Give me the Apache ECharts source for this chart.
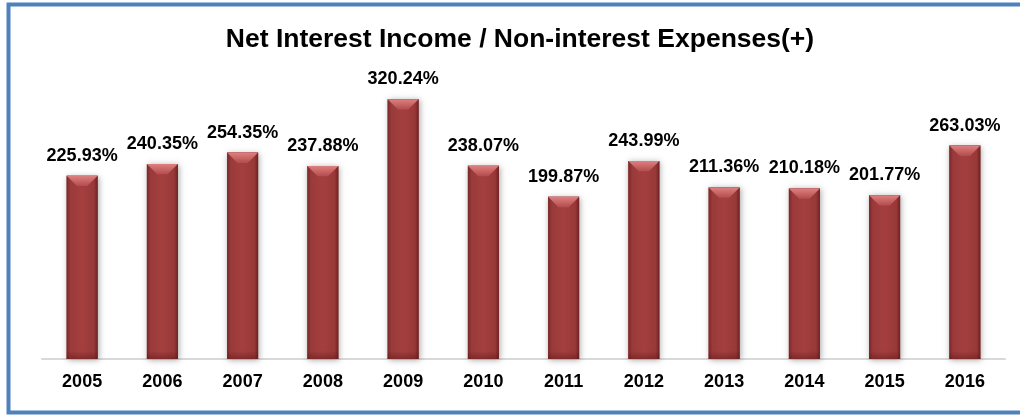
<!DOCTYPE html>
<html>
<head>
<meta charset="utf-8">
<script src="https://cdn.jsdelivr.net/npm/echarts@6/dist/echarts.min.js"></script>
<style>
  html, body { margin: 0; padding: 0; background: #ffffff; }
  #chart { width: 1020px; height: 415px; }
</style>
</head>
<body>
<div id="chart"></div>
<script>
// Net interest income as a share of non-interest expenses, by year
const years = ['2005', '2006', '2007', '2008', '2009', '2010', '2011', '2012', '2013', '2014', '2015', '2016'];
const ratios = [225.93, 240.35, 254.35, 237.88, 320.24, 238.07, 199.87, 243.99, 211.36, 210.18, 201.77, 263.03];
const titleText = 'Net Interest Income / Non-interest Expenses(+)';

const FONT = '"Liberation Sans", Arial, Helvetica, sans-serif';

// Bevelled column: shaded body, light top chamfer, soft drop shadow, value label
function renderColumn(params, api) {
  const idx = api.value(0);
  const v = api.value(1);
  const top = api.coord([idx, v]);
  const base = api.coord([idx, 0]);
  const band = api.size([1, 0])[0];
  const w = Math.round(band * 0.385);
  const x0 = top[0] - w / 2, x1 = top[0] + w / 2;
  const y0 = top[1], yb = base[1];
  const h = yb - y0;
  const b = Math.min(11, w / 3);

  return {
    type: 'group',
    children: [
      {
        type: 'rect',
        shape: { x: x0, y: y0, width: w, height: h },
        style: {
          fill: '#8f3333',
          shadowBlur: 6,
          shadowColor: 'rgba(0,0,0,0.35)',
          shadowOffsetX: 1,
          shadowOffsetY: 1
        }
      },
      {
        type: 'rect',
        shape: { x: x0, y: y0, width: w, height: h },
        style: {
          fill: new echarts.graphic.LinearGradient(0, 0, 1, 0, [
            { offset: 0, color: '#7a2828' },
            { offset: 0.12, color: '#9a3a3a' },
            { offset: 0.5, color: '#a43f3f' },
            { offset: 0.88, color: '#983838' },
            { offset: 1, color: '#6e2222' }
          ])
        }
      },
      {
        type: 'rect',
        shape: { x: x0, y: yb - 8, width: w, height: 8 },
        style: {
          fill: new echarts.graphic.LinearGradient(0, 0, 0, 1, [
            { offset: 0, color: 'rgba(90,20,20,0)' },
            { offset: 1, color: 'rgba(90,20,20,0.45)' }
          ])
        }
      },
      {
        type: 'polygon',
        shape: { points: [[x0, y0], [x1, y0], [x1 - b, y0 + b], [x0 + b, y0 + b]] },
        style: {
          fill: new echarts.graphic.LinearGradient(0, 0, 0, 1, [
            { offset: 0, color: '#de8080' },
            { offset: 1, color: '#b44c4c' }
          ])
        }
      },
      {
        type: 'text',
        x: top[0],
        y: y0 - 11,
        style: {
          text: v.toFixed(2) + '%',
          fill: '#000000',
          font: 'bold 18px ' + FONT,
          align: 'center',
          verticalAlign: 'bottom'
        }
      }
    ]
  };
}

const chart = echarts.init(document.getElementById('chart'), null, { renderer: 'canvas' });

chart.setOption({
  backgroundColor: '#ffffff',
  animation: false,
  title: {
    text: titleText,
    left: 515,
    textAlign: 'center',
    top: 21,
    textStyle: { fontFamily: FONT, fontWeight: 'bold', fontSize: 26.5, color: '#000000' }
  },
  graphic: [
    {
      type: 'rect',
      shape: { x: 8.5, y: 4.5, width: 1030, height: 408 },
      style: { fill: 'none', stroke: '#4f81bd', lineWidth: 4 },
      silent: true
    }
  ],
  grid: { left: 42, right: 15, top: 75, bottom: 56 },
  xAxis: {
    type: 'category',
    data: years,
    axisLine: { show: true, lineStyle: { color: '#d9d9d9', width: 2 } },
    axisTick: { show: false },
    axisLabel: {
      color: '#000000',
      fontFamily: FONT,
      fontWeight: 'bold',
      fontSize: 18,
      margin: 14
    }
  },
  yAxis: {
    type: 'value',
    min: 0,
    max: 350,
    show: false,
    splitLine: { show: false }
  },
  series: [
    {
      type: 'custom',
      renderItem: renderColumn,
      encode: { x: 0, y: 1 },
      data: ratios.map((r, i) => [i, r]),
      clip: false
    }
  ]
});
</script>
</body>
</html>
